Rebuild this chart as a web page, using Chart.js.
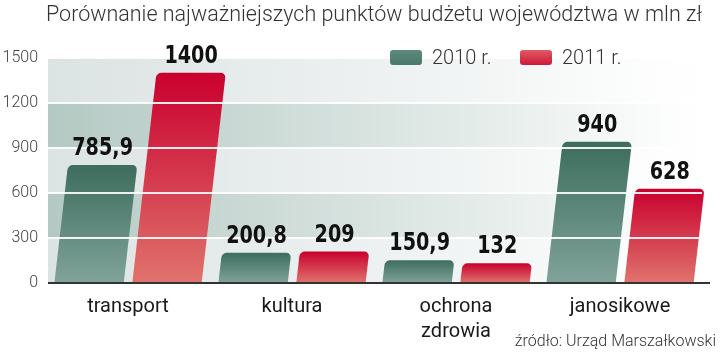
<!DOCTYPE html>
<html><head><meta charset="utf-8">
<script src="https://cdn.jsdelivr.net/npm/chart.js@4"></script>
<style>html,body{margin:0;padding:0;background:#fff}#wrap{width:720px;height:357px;position:relative}</style>
</head><body><div id="wrap"><canvas id="c"></canvas></div>
<script>
const chartTitle = 'Porównanie najważniejszych punktów budżetu województwa w mln zł';
const sourceText = 'źródło: Urząd Marszałkowski';
const categories = ['transport', 'kultura', ['ochrona', 'zdrowia'], 'janosikowe'];
const seriesNames = ['2010 r.', '2011 r.'];
const values2010 = [785.9, 200.8, 150.9, 940];
const values2011 = [1400, 209, 132, 628];
const yTicks = [0, 300, 600, 900, 1200, 1500];

const K = 0.115; // slant of bars
const GREEN = ['#3d6d5d', '#80a39a'];
const RED = ['#c9002e', '#e0736d'];

function fmt(v) { return String(v).replace('.', ','); }

function barFill(cols) {
  return function (c) {
    const chart = c.chart;
    if (!chart.chartArea || c.type !== 'data') return cols[0];
    const y = chart.scales.y;
    const top = y.getPixelForValue(c.raw), bot = y.getPixelForValue(0);
    const g = chart.ctx.createLinearGradient(0, top, 0, bot);
    g.addColorStop(0, cols[0]);
    g.addColorStop(1, cols[1]);
    return g;
  };
}

const bandPlugin = {
  id: 'bands',
  beforeDraw(chart) {
    const { ctx, chartArea } = chart;
    const y = chart.scales.y;
    const light = [220, 227, 227], dark = [180, 201, 195];
    const x0 = chartArea.left + 2, x1 = chartArea.right + 10;
    for (let i = 0; i < yTicks.length - 1; i++) {
      const yb = y.getPixelForValue(yTicks[i]), yt = y.getPixelForValue(yTicks[i + 1]);
      const idxFromTop = yTicks.length - 2 - i;
      const col = idxFromTop % 2 === 1 ? dark : light;
      const g = ctx.createLinearGradient(x0, 0, x1, 0);
      const rgba = a => `rgba(${col[0]},${col[1]},${col[2]},${a})`;
      g.addColorStop(0, rgba(1));
      g.addColorStop(0.3, rgba(0.7));
      g.addColorStop(0.65, rgba(0.35));
      g.addColorStop(0.93, rgba(0.04));
      g.addColorStop(1, rgba(0));
      ctx.fillStyle = g;
      ctx.fillRect(x0, yt, x1 - x0, yb - yt);
    }
  }
};

const skewPlugin = {
  id: 'skew',
  beforeDatasetsDraw(chart) {
    const ctx = chart.ctx;
    const y0 = chart.scales.y.getPixelForValue(0);
    ctx.save();
    ctx.transform(1, 0, -K, 1, K * y0, 0);
  },
  afterDatasetsDraw(chart) {
    chart.ctx.restore();
    const ctx = chart.ctx;
    const y0 = chart.scales.y.getPixelForValue(0);
    ctx.save();
    ctx.strokeStyle = '#333';
    ctx.lineWidth = 2;
    ctx.beginPath();
    ctx.moveTo(chart.chartArea.left + 2, y0);
    ctx.lineTo(710, y0);
    ctx.stroke();
    ctx.restore();
  }
};

const decorPlugin = {
  id: 'decor',
  afterDraw(chart) {
    const ctx = chart.ctx;
    const y0 = chart.scales.y.getPixelForValue(0);
    // value labels
    chart.data.datasets.forEach((ds, di) => {
      const meta = chart.getDatasetMeta(di);
      meta.data.forEach((bar, j) => {
        const cx = bar.x + K * (y0 - bar.y);
        ctx.save();
        ctx.translate(cx, bar.y - 10);
        ctx.scale(0.8, 1);
        ctx.font = 'bold 24px "DejaVu Sans"';
        ctx.fillStyle = '#111';
        ctx.textAlign = 'center';
        ctx.textBaseline = 'alphabetic';
        ctx.fillText(fmt(ds.data[j]), 0, 0);
        ctx.restore();
      });
    });
    // legend
    const legendX = [390, 520];
    chart.data.datasets.forEach((ds, di) => {
      const x = legendX[di], yT = 50, w = 32, h = 15;
      const g = ctx.createLinearGradient(0, yT, 0, yT + h);
      g.addColorStop(0, di === 0 ? '#5c8a7d' : '#e05a64');
      g.addColorStop(1, di === 0 ? '#4a7869' : '#cc1a38');
      ctx.save();
      ctx.fillStyle = g;
      ctx.beginPath();
      ctx.roundRect(x, yT, w, h, 3);
      ctx.fill();
      ctx.font = '300 20px Roboto';
      ctx.fillStyle = '#333';
      ctx.textAlign = 'left';
      ctx.textBaseline = 'middle';
      ctx.fillText(ds.label, x + 42, yT + h / 2 + 1);
      ctx.restore();
    });
    // source
    ctx.save();
    ctx.font = '300 16px Roboto';
    ctx.fillStyle = '#333';
    ctx.textAlign = 'right';
    ctx.textBaseline = 'middle';
    ctx.fillText(sourceText, 716, 342);
    ctx.restore();
  }
};

new Chart(document.getElementById('c'), {
  type: 'bar',
  data: {
    labels: categories,
    datasets: [
      { label: seriesNames[0], data: values2010, backgroundColor: barFill(GREEN),
        borderRadius: { topLeft: 5, topRight: 5 }, borderSkipped: 'bottom', clip: false },
      { label: seriesNames[1], data: values2011, backgroundColor: barFill(RED),
        borderRadius: { topLeft: 5, topRight: 5 }, borderSkipped: 'bottom', clip: false }
    ]
  },
  options: {
    responsive: true,
    maintainAspectRatio: false,
    animation: false,
    events: [],
    devicePixelRatio: 1,
    layout: { padding: { left: 0, right: 18, top: 0, bottom: 0 } },
    datasets: { bar: { categoryPercentage: 0.95, barPercentage: 0.89 } },
    plugins: {
      legend: { display: false },
      tooltip: { enabled: false },
      title: {
        display: true, text: chartTitle, color: '#333', fullSize: false,
        font: { family: 'Roboto', size: 21.5, weight: 300 },
        padding: { top: 3, bottom: 29 }
      }
    },
    scales: {
      x: {
        grid: { display: false },
        border: { display: false },
        ticks: { color: '#1a1a1a', font: { family: 'Roboto', size: 20, lineHeight: 1.25 }, padding: 3, maxRotation: 0, autoSkip: false },
        afterFit(s) { s.height = 74; }
      },
      y: {
        min: 0, max: 1500,
        afterBuildTicks(s) { s.ticks = yTicks.map(v => ({ value: v })); },
        grid: { z: 1, lineWidth: 2, drawTicks: false,
          color: c => (c.tick && c.tick.value === 0) ? 'rgba(0,0,0,0)' : 'rgba(255,255,255,0.9)' },
        border: { display: false },
        ticks: { color: '#444', font: { family: 'Roboto', size: 16, weight: 300 }, padding: 8,
          callback: v => String(v) },
        afterFit(s) { s.width = 46; }
      }
    }
  },
  plugins: [bandPlugin, skewPlugin, decorPlugin]
});
</script>
</body></html>
